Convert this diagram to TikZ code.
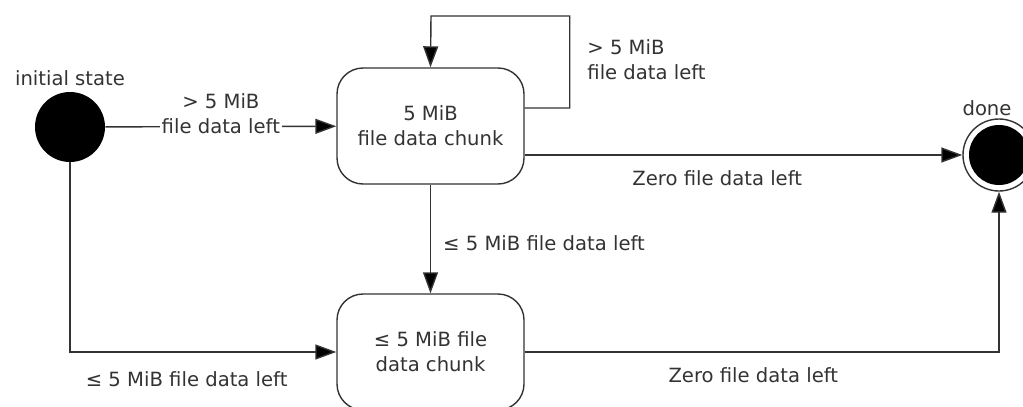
\documentclass[tikz,border=0pt]{standalone}
\usepackage{fontspec}
\setmainfont{DejaVu Sans}
\usetikzlibrary{arrows.meta}
\definecolor{ink}{HTML}{333333}
\tikzset{
  conn/.style={draw=ink, line width=0.7pt, -{Triangle[length=10.5pt,width=7.5pt,fill=black]}},
  lbl/.style={text=ink, font=\fontsize{9.8}{12.5}\selectfont, inner sep=1pt},
  statebox/.style={draw=ink, line width=0.7pt, rounded corners=13pt, minimum width=93.5pt, minimum height=58pt, align=center, text=ink, font=\fontsize{9.8}{12.5}\selectfont, inner sep=0pt},
  startdot/.style={circle, fill=black, minimum size=35pt, inner sep=0pt},
  enddot/.style={circle, draw=ink, line width=0.7pt, minimum size=36pt, inner sep=0pt,
    path picture={\fill[black] (path picture bounding box.center) circle (15pt);}}
}
\begin{document}
\begin{tikzpicture}[x=0.5pt, y=-0.5pt]
\useasboundingbox (0,0) rectangle (1023,407);
\node[startdot] (init) at (70,127) {};
\node[lbl] (initlbl) at (70,78) {initial state};
\node[statebox] (top) at (430.5,126) {5 MiB\\file data chunk};
\node[statebox] (bot) at (430.5,352) {≤ 5 MiB file\\data chunk};
\node[enddot] (done) at (999,155) {};
\node[lbl] (donelbl) at (987,108) {done};

\draw[conn] (init) -- node[lbl, fill=white, align=center, yshift=6.25pt] (l1) {> 5 MiB\\file data left} (top);
\draw[conn] ([yshift=9pt]top.east) -- ++(45,0) |- (431,16) -- (top.north);
\node[lbl, anchor=west, align=left] (l2) at (585,59.5) {> 5 MiB\\file data left};
\draw[conn] ([yshift=-14.5pt]top.east) -- node[lbl, pos=0.44, yshift=-11.5pt] (l3) {Zero file data left} (done.west);
\draw[conn] (top) -- node[lbl, anchor=west, xshift=5pt, yshift=-2pt] (l4) {≤ 5 MiB file data left} (bot);
\draw[conn] (init) |- node[lbl, pos=0.719, yshift=-13.5pt] (l5) {≤ 5 MiB file data left} (bot);
\draw[conn] (bot.east) -| node[lbl, pos=0.241, yshift=-11.5pt] (l6) {Zero file data left} (done.south);
\end{tikzpicture}
\end{document}
